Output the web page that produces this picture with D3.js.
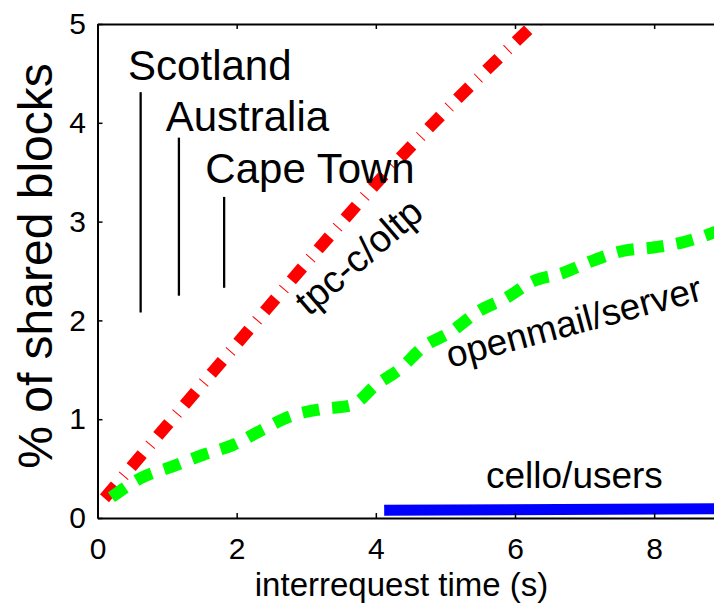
<!DOCTYPE html>
<html>
<head>
<meta charset="utf-8">
<script src="https://cdn.jsdelivr.net/npm/d3@7"></script>
<style>
  body { margin: 0; background: #fff; }
  svg text { font-family: "Liberation Sans", Arial, Helvetica, sans-serif; fill: #000; }
</style>
</head>
<body>
<svg id="chart" width="714" height="608"></svg>
<script>
// data
const xTicks = [0, 2, 4, 6, 8];
const yTicks = [0, 1, 2, 3, 4, 5];

const tpcX = [0.1, 1.0, 2.0, 3.0, 4.0, 5.0, 6.35];
const tpcY = [0.2, 0.94, 1.76, 2.58, 3.38, 4.12, 5.05];

const openmailX = [0.2, 0.61, 1.07, 1.52, 1.95, 2.36, 2.77, 3.2, 3.65, 4.01, 4.35, 4.68, 5.07, 5.47, 5.88, 6.24, 6.69, 7.1, 7.53, 8.01, 8.41, 8.9];
const openmailY = [0.21, 0.4, 0.52, 0.64, 0.74, 0.89, 1.03, 1.1, 1.14, 1.35, 1.51, 1.73, 1.88, 2.09, 2.23, 2.39, 2.48, 2.6, 2.7, 2.74, 2.79, 2.9];

const celloX = [4.12, 9.0];
const celloY = [0.078, 0.095];

const places = ["Scotland", "Australia", "Cape Town"];
const placeLineX = [0.62, 1.17, 1.82];
const placeLineTop = [4.31, 3.85, 3.25];
const placeLineBottom = [2.08, 2.25, 2.33];
const placeTextX = [0.44, 0.98, 1.55];
const placeTextY = [4.43, 3.92, 3.39];

const svg = d3.select("#chart");
const margin = {left: 97.5, top: 24, bottom: 90};
const W = 714, H = 608;

const x = d3.scaleLinear().domain([0, 8.86]).range([margin.left, W]);
const y = d3.scaleLinear().domain([0, 5]).range([H - margin.bottom, margin.top]);

svg.append("clipPath").attr("id", "plotclip")
  .append("rect")
  .attr("x", margin.left).attr("y", margin.top)
  .attr("width", W - margin.left).attr("height", y(0) - margin.top);

const plot = svg.append("g").attr("clip-path", "url(#plotclip)");

const line = d3.line().x(d => x(d[0])).y(d => y(d[1]));

// tpc-c/oltp, thick dash-dot
plot.append("path")
  .datum(d3.zip(tpcX, tpcY))
  .attr("d", line.curve(d3.curveMonotoneX))
  .attr("fill", "none")
  .attr("stroke", "#ff0000")
  .attr("stroke-width", 12)
  .attr("stroke-dasharray", "17 12 1 11")
  .attr("stroke-linecap", "butt");

// openmail/server, thick dashes
plot.append("path")
  .datum(d3.zip(openmailX, openmailY))
  .attr("d", line.curve(d3.curveMonotoneX))
  .attr("fill", "none")
  .attr("stroke", "#00ff00")
  .attr("stroke-width", 12)
  .attr("stroke-dasharray", "17 13")
  .attr("stroke-linecap", "butt");

// cello/users, solid
plot.append("path")
  .datum(d3.zip(celloX, celloY))
  .attr("d", d3.line().x(d => x(d[0])).y(d => y(d[1])))
  .attr("fill", "none")
  .attr("stroke", "#0000ff")
  .attr("stroke-width", 11);

// place markers
places.forEach((p, i) => {
  svg.append("line")
    .attr("x1", x(placeLineX[i])).attr("x2", x(placeLineX[i]))
    .attr("y1", y(placeLineTop[i])).attr("y2", y(placeLineBottom[i]))
    .attr("stroke", "#000").attr("stroke-width", 2.3);
  svg.append("text")
    .attr("x", x(placeTextX[i])).attr("y", y(placeTextY[i]))
    .attr("font-size", 42)
    .text(p);
});

// curve labels
svg.append("text")
  .attr("transform", "translate(309,317) rotate(-41)")
  .attr("font-size", 38)
  .text("tpc-c/oltp");

svg.append("text")
  .attr("transform", "translate(450,368) rotate(-15)")
  .attr("font-size", 37)
  .text("openmail/server");

svg.append("text")
  .attr("x", 486).attr("y", 488)
  .attr("font-size", 37)
  .text("cello/users");

// axes
const xAxis = svg.append("g")
  .attr("transform", `translate(0,${y(0)})`)
  .call(d3.axisBottom(x).tickValues(xTicks).tickFormat(d3.format("d"))
    .tickSizeInner(-5).tickSizeOuter(0).tickPadding(20));

const xTop = svg.append("g")
  .attr("transform", `translate(0,${margin.top})`)
  .call(d3.axisTop(x).tickValues(xTicks).tickSizeInner(-5).tickSizeOuter(0).tickFormat(""));

const yAxis = svg.append("g")
  .attr("transform", `translate(${margin.left},0)`)
  .call(d3.axisLeft(y).tickValues(yTicks).tickFormat(d3.format("d"))
    .tickSizeInner(-5).tickSizeOuter(0).tickPadding(11.5));

[xAxis, xTop, yAxis].forEach(g => {
  g.select(".domain").attr("stroke", "#000").attr("stroke-width", 2);
  g.selectAll(".tick line").attr("stroke", "#000").attr("stroke-width", 1.5);
  g.selectAll(".tick text")
    .attr("font-size", 30)
    .attr("font-family", "'Liberation Sans', Arial, Helvetica, sans-serif")
    .attr("fill", "#000");
});

// axis titles
svg.append("text")
  .attr("x", 401.5).attr("y", 596)
  .attr("text-anchor", "middle")
  .attr("font-size", 33)
  .text("interrequest time (s)");

svg.append("text")
  .attr("transform", "translate(52,266) rotate(-90)")
  .attr("text-anchor", "middle")
  .attr("font-size", 48)
  .text("% of shared blocks");
</script>
</body>
</html>
